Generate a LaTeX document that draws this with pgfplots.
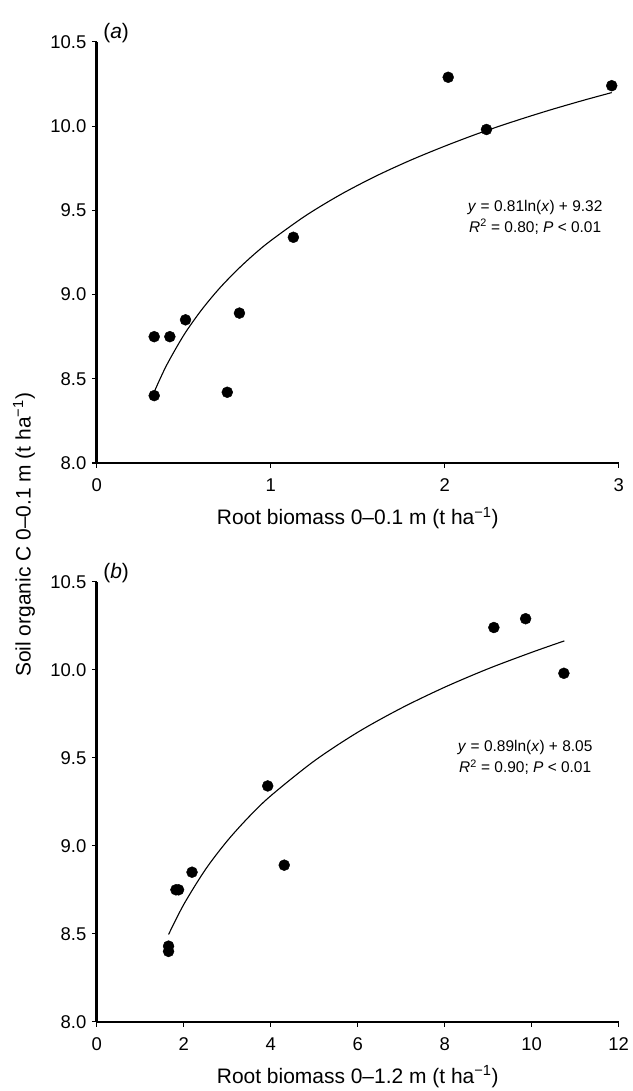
\documentclass[border=0pt]{standalone}
\usepackage{fontspec}
\setmainfont{Liberation Sans}
\usepackage{pgfplots}
\pgfplotsset{compat=1.18}

\pgfplotsset{
  soil/.style={
    scale only axis, width=523pt,
    xmin=0, ymin=8, ymax=10.5,
    axis lines*=left, clip=false,
    axis line style={line width=2.6pt},
    tick align=outside, major tick length=5pt,
    tick style={line width=1.2pt, black},
    ytick={8,8.5,9,9.5,10,10.5},
    yticklabel style={/pgf/number format/fixed, /pgf/number format/fixed zerofill,
      /pgf/number format/precision=1, xshift=-2pt},
    xticklabel style={yshift=-7pt},
    /pgf/number format/assume math mode=true,
    every tick label/.append style={font=\fontsize{18.5}{20}\selectfont},
    xlabel style={font=\fontsize{21}{24}\selectfont,
      at={(axis description cs:0.5,0)}, anchor=center, yshift=-55pt},
  },
  dots/.style={only marks, mark=*, mark size=5.5pt, black},
  fit/.style={no marks, smooth, black, line width=1.1pt},
}

\begin{document}
\begin{tikzpicture}[x=1pt,y=1pt]
\path (0,0) rectangle (632,1091);

% (a)
\begin{axis}[soil, at={(97pt,627pt)}, anchor=south west, height=422pt,
    xmax=3, xtick={0,1,2,3},
    xlabel={Root biomass 0--0.1 m (t ha\textsuperscript{−1})}]
  \addplot[dots] coordinates {
    (0.33,8.40) (0.33,8.75) (0.42,8.75) (0.51,8.85) (0.75,8.42)
    (0.82,8.89) (1.13,9.34) (2.02,10.29) (2.24,9.98) (2.96,10.24)
  };
  \addplot[fit] coordinates {
    (0.33,8.422) (0.4,8.578) (0.5,8.759) (0.6,8.906) (0.7,9.031)
    (0.8,9.139) (0.9,9.235) (1.0,9.320) (1.2,9.468) (1.4,9.593)
    (1.6,9.701) (1.8,9.796) (2.0,9.881) (2.2,9.959) (2.4,10.029)
    (2.6,10.094) (2.8,10.154) (2.96,10.199)
  };
  \node[anchor=west, font=\fontsize{21}{24}\selectfont] at (rel axis cs:0,1) [xshift=3pt, yshift=9pt] {(\textit{a})};
  \node[align=center, font=\fontsize{15.5}{21}\selectfont] at (axis cs:2.52,9.46)
    {\textit{y} = 0.81ln(\textit{x}) + 9.32\\\textit{R}\textsuperscript{2} = 0.80; \textit{P} < 0.01};
\end{axis}

% (b)
\begin{axis}[soil, at={(97pt,67pt)}, anchor=south west, height=441pt,
    xmax=12, xtick={0,2,4,6,8,10,12},
    xlabel={Root biomass 0--1.2 m (t ha\textsuperscript{−1})}]
  \addplot[dots] coordinates {
    (1.65,8.43) (1.65,8.40) (1.82,8.75) (1.88,8.75) (2.19,8.85)
    (3.93,9.34) (4.31,8.89) (9.13,10.24) (9.86,10.29) (10.74,9.98)
  };
  \addplot[fit] coordinates {
    (1.65,8.496) (2.0,8.667) (2.5,8.866) (3.0,9.028) (3.5,9.165)
    (4,9.284) (5,9.482) (6,9.645) (7,9.782) (8,9.901)
    (9,10.006) (10,10.099) (10.75,10.164)
  };
  \node[anchor=west, font=\fontsize{21}{24}\selectfont] at (rel axis cs:0,1) [xshift=3pt, yshift=9pt] {(\textit{b})};
  \node[align=center, font=\fontsize{15.5}{21}\selectfont] at (axis cs:9.85,9.50)
    {\textit{y} = 0.89ln(\textit{x}) + 8.05\\\textit{R}\textsuperscript{2} = 0.90; \textit{P} < 0.01};
\end{axis}

\node[rotate=90, font=\fontsize{21}{24}\selectfont] at (24,555)
  {Soil organic C 0--0.1 m (t ha\textsuperscript{−1})};
\end{tikzpicture}
\end{document}
